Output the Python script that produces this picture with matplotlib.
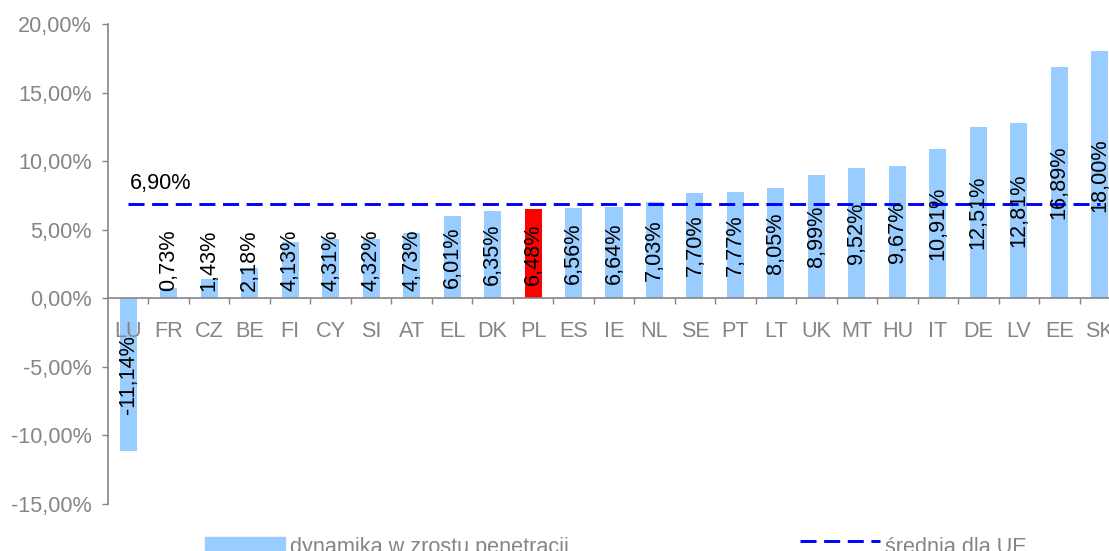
import matplotlib
matplotlib.use("Agg")
import matplotlib.pyplot as plt
from matplotlib.patches import Rectangle
from matplotlib.lines import Line2D

plt.rcParams['font.family'] = ['Liberation Sans', 'DejaVu Sans']

countries = ["LU", "FR", "CZ", "BE", "FI", "CY", "SI", "AT", "EL", "DK", "PL", "ES", "IE",
             "NL", "SE", "PT", "LT", "UK", "MT", "HU", "IT", "DE", "LV", "EE", "SK"]
values = [-11.14, 0.73, 1.43, 2.18, 4.13, 4.31, 4.32, 4.73, 6.01, 6.35, 6.48, 6.56, 6.64,
          7.03, 7.70, 7.77, 8.05, 8.99, 9.52, 9.67, 10.91, 12.51, 12.81, 16.89, 18.00]
highlight = "PL"
eu_avg = 6.90
yticks = [-15, -10, -5, 0, 5, 10, 15, 20]
legend_bar = "dynamika w zrostu penetracji"
legend_line = "średnia dla UE"

def pl_fmt(v):
    return f"{v:.2f}".replace(".", ",") + "%"

W, H = 1109, 551
fig = plt.figure(figsize=(W / 100, H / 100), dpi=100)
ax = fig.add_axes([108 / W, 1 - 504 / H, (1120 - 108) / W, (504 - 24) / H])

gray = "#858585"
fs = 15.6
n = len(countries)
xs = list(range(n))
colors = ["#FF0000" if c == highlight else "#99CCFF" for c in countries]
ax.bar(xs, values, width=0.42, color=colors, zorder=1)

ax.set_xlim(-0.5, n - 0.5)
ax.set_ylim(-15, 20)

# average line
ax.plot([0, n - 1], [eu_avg, eu_avg], color="#0000FF", lw=2.1, dashes=(5.5, 2.6), zorder=3)
ax.text(0.05, eu_avg + 0.7, pl_fmt(eu_avg), fontsize=fs, color="black", ha="left", va="bottom")

# bar labels
half_len = 2.3
for x, v in zip(xs, values):
    if v < 0:
        ax.text(x, v / 2, pl_fmt(v), rotation=90, ha="center", va="center", fontsize=fs, zorder=4)
    elif v / 2 - half_len < 0.5:
        ax.text(x, 0.5, pl_fmt(v), rotation=90, ha="center", va="bottom", fontsize=fs, zorder=4)
    else:
        ax.text(x, v / 2, pl_fmt(v), rotation=90, ha="center", va="center", fontsize=fs, zorder=4)

# axes styling
for s in ["top", "right"]:
    ax.spines[s].set_visible(False)
ax.spines["bottom"].set_position(("data", 0))
ax.spines["bottom"].set_color(gray)
ax.spines["left"].set_color(gray)
ax.spines["bottom"].set_linewidth(1.2)
ax.spines["left"].set_linewidth(1.2)

ax.set_yticks(yticks)
ax.set_yticklabels([pl_fmt(v) for v in yticks], color=gray, fontsize=fs)
ax.tick_params(axis="y", direction="out", length=4.3, width=1, color=gray, pad=7.5)

ax.set_xticks(xs)
ax.set_xticklabels(countries, color=gray, fontsize=fs)
ax.tick_params(axis="x", which="major", length=0, pad=16)
ax.set_xticks([i + 0.5 for i in range(n - 1)], minor=True)
ax.tick_params(axis="x", which="minor", direction="out", length=4.5, width=1, color=gray)

# legend (manual, partly clipped at the bottom like the reference)
fig.patches.append(Rectangle((205 / W, 1 - 562 / H), 80 / W, 25 / H,
                             transform=fig.transFigure, color="#99CCFF"))
fig.text(290 / W, 1 - 553 / H, legend_bar, color=gray, fontsize=fs, ha="left", va="baseline")
fig.lines.append(Line2D([800 / W, 880 / W], [1 - 541 / H, 1 - 541 / H], transform=fig.transFigure,
                        color="#0000FF", lw=2.1, dashes=(5.5, 2.6)))
fig.text(885 / W, 1 - 553 / H, legend_line, color=gray, fontsize=fs, ha="left", va="baseline")

fig.savefig("out.png", dpi=100)
